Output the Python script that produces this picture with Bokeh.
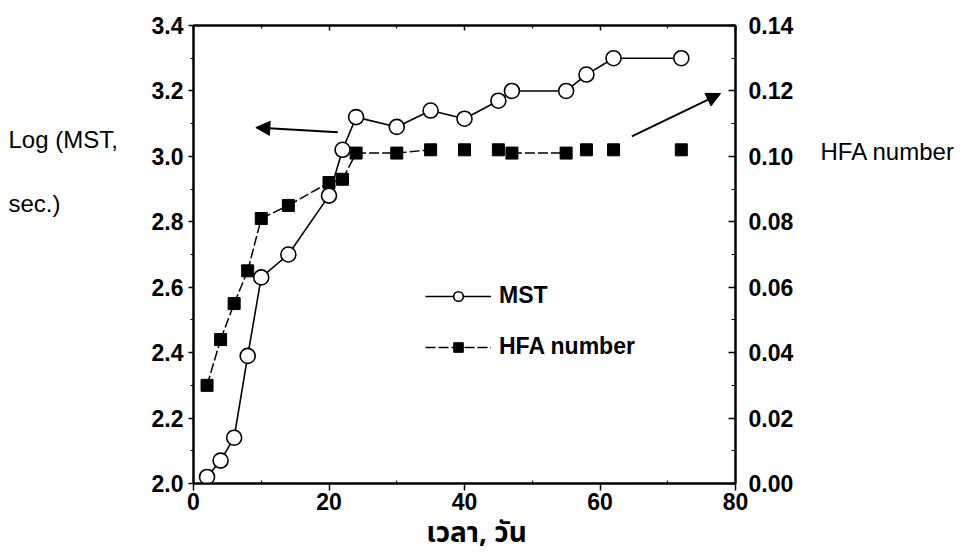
from bokeh.plotting import figure
from bokeh.models import (Range1d, LinearAxis, FixedTicker, NumeralTickFormatter, Label,
                          Arrow, NormalHead, Legend, LegendItem)
from bokeh.embed import file_html
from bokeh.resources import INLINE

# ---- data ----
days = [2, 4, 6, 8, 10, 14, 20, 22, 24, 30, 35, 40, 45, 47, 55, 58, 62, 72]
log_mst = [2.02, 2.07, 2.14, 2.39, 2.63, 2.70, 2.88, 3.02, 3.12, 3.09, 3.14, 3.115,
           3.17, 3.20, 3.20, 3.25, 3.30, 3.30]
hfa_number = [0.030, 0.044, 0.055, 0.065, 0.081, 0.085, 0.092, 0.093, 0.101, 0.101,
              0.102, 0.102, 0.102, 0.101, 0.101, 0.102, 0.102, 0.102]
# pairs of HFA points joined by a visible line in the original
hfa_links = [(0, 1), (1, 2), (2, 3), (3, 4), (4, 5), (5, 6), (6, 7), (7, 8), (8, 9),
             (9, 10), (13, 14)]

x_ticks = [0, 20, 40, 60, 80]
x_minor = [10, 30, 50, 70]
left_ticks = [2.0, 2.2, 2.4, 2.6, 2.8, 3.0, 3.2, 3.4]
left_minor = [2.1, 2.3, 2.5, 2.7, 2.9, 3.1, 3.3]
right_ticks = [0.00, 0.02, 0.04, 0.06, 0.08, 0.10, 0.12, 0.14]
right_minor = [0.01, 0.03, 0.05, 0.07, 0.09, 0.11, 0.13]

FONT = "Liberation Sans"
THAI_FONT = "'Noto Sans Thai', 'Noto Sans Thai UI', Loma, Garuda, 'Tlwg Typo', sans-serif"

p = figure(width=966, height=558, x_range=Range1d(0, 80), y_range=Range1d(2.0, 3.4),
           output_backend="svg", toolbar_location=None,
           min_border_left=193, min_border_right=231, min_border_top=25, min_border_bottom=75)
p.extra_y_ranges = {"hfa": Range1d(0, 0.14)}
p.xgrid.visible = False
p.ygrid.visible = False
p.outline_line_color = "black"
p.outline_line_width = 2
p.background_fill_color = "white"
p.border_fill_color = "white"


def style_axis(ax, size="23px"):
    ax.axis_line_color = "black"
    ax.axis_line_width = 2
    ax.major_tick_line_color = "black"
    ax.major_tick_line_width = 1.5
    ax.minor_tick_line_color = "black"
    ax.minor_tick_line_width = 1.2
    ax.major_label_text_font = FONT
    ax.major_label_text_font_size = size
    ax.major_label_text_font_style = "bold"
    ax.major_label_text_color = "black"


# bottom axis
xa = p.xaxis[0]
xa.ticker = FixedTicker(ticks=x_ticks, minor_ticks=x_minor)
style_axis(xa)
xa.major_tick_out = 7
xa.major_tick_in = 0
xa.minor_tick_in = 3
xa.minor_tick_out = 0
xa.major_label_standoff = 2

# left axis
ya = p.yaxis[0]
ya.ticker = FixedTicker(ticks=left_ticks, minor_ticks=left_minor)
ya.formatter = NumeralTickFormatter(format="0.0")
style_axis(ya)
ya.major_tick_out = 5
ya.major_tick_in = 0
ya.minor_tick_out = 3
ya.minor_tick_in = 0
ya.major_label_standoff = 5

# top axis (ticks only, no labels)
top = LinearAxis(ticker=FixedTicker(ticks=x_ticks, minor_ticks=x_minor))
style_axis(top)
top.major_tick_in = 5
top.major_tick_out = 0
top.minor_tick_in = 3
top.minor_tick_out = 0
top.major_label_text_alpha = 0
top.major_label_standoff = 0
top.major_label_text_font_size = "1px"
p.add_layout(top, "above")

# right axis
ra = LinearAxis(y_range_name="hfa", ticker=FixedTicker(ticks=right_ticks, minor_ticks=right_minor),
                formatter=NumeralTickFormatter(format="0.00"))
style_axis(ra)
ra.major_tick_in = 7
ra.major_tick_out = 0
ra.minor_tick_in = 4
ra.minor_tick_out = 0
ra.major_label_standoff = 13
p.add_layout(ra, "right")

# HFA series
hfa_seg = p.segment(x0=[days[i] for i, j in hfa_links], y0=[hfa_number[i] for i, j in hfa_links],
                    x1=[days[j] for i, j in hfa_links], y1=[hfa_number[j] for i, j in hfa_links],
                    y_range_name="hfa", line_color="black", line_width=1.5, line_dash="10 3")
hfa_pts = p.scatter(days, hfa_number, y_range_name="hfa", marker="square", size=12,
                    fill_color="black", line_color="black")

# MST series
mst_line = p.line(days, log_mst, line_color="black", line_width=1.6)
mst_pts = p.scatter(days, log_mst, marker="circle", size=15, fill_color="white",
                    line_color="black", line_width=1.6)

legend = Legend(items=[LegendItem(label="MST", renderers=[mst_line, mst_pts]),
                       LegendItem(label="HFA number", renderers=[hfa_seg, hfa_pts])],
                location=(232, 123), glyph_width=66, glyph_height=24, label_height=24,
                spacing=24, padding=0, margin=0, border_line_color=None,
                background_fill_alpha=0, label_text_font=FONT, label_text_font_size="23px",
                label_text_font_style="bold", label_text_color="black", label_standoff=8)
p.add_layout(legend)

# arrows (annotation positions)
LEFT_ARROW = dict(x_start=21.3, y_start=3.074, x_end=9.2, y_end=3.088)
RIGHT_ARROW = dict(x_start=64.7, y_start=3.061, x_end=77.8, y_end=3.192)
for a in (LEFT_ARROW, RIGHT_ARROW):
    p.add_layout(Arrow(end=NormalHead(size=14, fill_color="black", line_color="black"),
                       line_width=2, line_color="black", **a))

# texts placed on the canvas (pixels from top-left), living in side panels so they are not clipped
def canvas_label(x, y, text, side, **kw):
    opts = dict(text_baseline="middle", text_font=FONT, text_font_size="24px", text_color="black")
    opts.update(kw)
    p.add_layout(Label(x=x, y=y, x_units="canvas", y_units="canvas", text=text, **opts), side)

canvas_label(8, 171, "Log (MST,\n\nsec.)", "left")
canvas_label(820, 151, "HFA number", "right")
canvas_label(476, 533, "เวลา, วัน", "below", text_align="center", text_font=THAI_FONT,
             text_font_size="28px", text_font_style="bold")

open("out.html", "w").write(file_html(p, INLINE))
